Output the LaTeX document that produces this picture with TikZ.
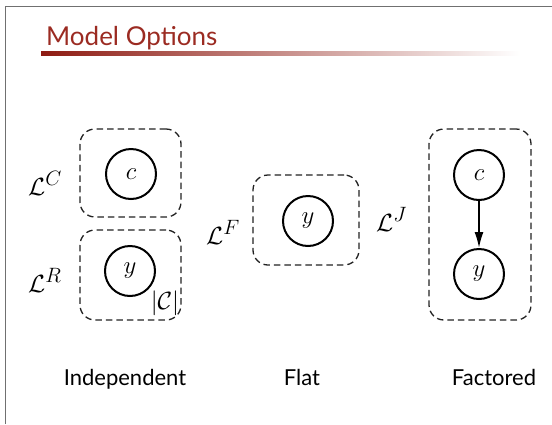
\documentclass[tikz,border=0pt]{standalone}
\usepackage{fontspec}
\newfontfamily\slidefont{Lato}
\usepackage{tikz}
\usetikzlibrary{arrows.meta, positioning}
\definecolor{mtitle}{HTML}{9B2B22}
\definecolor{mbar}{HTML}{8E1B12}
\definecolor{mframe}{HTML}{707070}
\definecolor{mplate}{HTML}{222222}
\tikzset{
  var/.style={circle, draw=black, line width=2pt, minimum size=50pt,
              inner sep=0pt, font=\fontsize{32}{38}\selectfont},
  plate/.style={draw=mplate, dash pattern=on 6.5pt off 4pt, line width=1.3pt,
                rounded corners=15pt},
  lbl/.style={inner sep=0pt, anchor=base west, font=\fontsize{31}{37}\selectfont},
  caption/.style={anchor=base, inner sep=0pt, font=\slidefont\fontsize{22}{26}\selectfont},
  arr/.style={-{Latex[length=16pt,width=9pt]}, line width=1.7pt},
}

\begin{document}
\begin{tikzpicture}[x=1pt, y=-1pt]
  \useasboundingbox (0,0) rectangle (552,424);

  % slide frame and title
  \draw[mframe, line width=1.5pt] (5.5,424) -- (5.5,6.5) -- (552,6.5);
  \node[anchor=base west, inner sep=0pt, text=mtitle,
        font=\slidefont\fontsize{26}{30}\selectfont] (title) at (46,45) {Model Options};
  \shade[left color=mbar, right color=white] (41,51) rectangle (520,55);

  % independent
  \node[var] (cI) at (131,174) {$c$};
  \node[var] (yI) at (130,271) {$y$};
  \node[plate, minimum width=101pt, minimum height=88pt] (plC) at (130.5,173) {};
  \node[plate, minimum width=101pt, minimum height=90pt] (plR) at (130.5,275) {};
  \node[lbl] (lC) at (28,195) {$\mathcal{L}^C$};
  \node[lbl] (lR) at (28,292) {$\mathcal{L}^R$};
  \node[inner sep=0pt, font=\fontsize{26}{30}\selectfont] (nC) at (165,303) {$|\mathcal{C}|$};

  % flat
  \node[var] (yF) at (308,221) {$y$};
  \node[plate, minimum width=106pt, minimum height=90pt] (plF) at (306,220) {};
  \node[lbl] (lF) at (206,244) {$\mathcal{L}^F$};

  % factored
  \node[var] (cJ) at (479,175) {$c$};
  \node[var] (yJ) at (479,274) {$y$};
  \node[plate, minimum width=102pt, minimum height=191pt] (plJ) at (480,224.5) {};
  \node[lbl] (lJ) at (376,231) {$\mathcal{L}^J$};
  \draw[arr] (cJ) -- (yJ);

  % captions
  \node[caption] (capI) at (125,385) {Independent};
  \node[caption] (capF) at (302,385) {Flat};
  \node[caption] (capJ) at (494,385) {Factored};
\end{tikzpicture}
\end{document}
